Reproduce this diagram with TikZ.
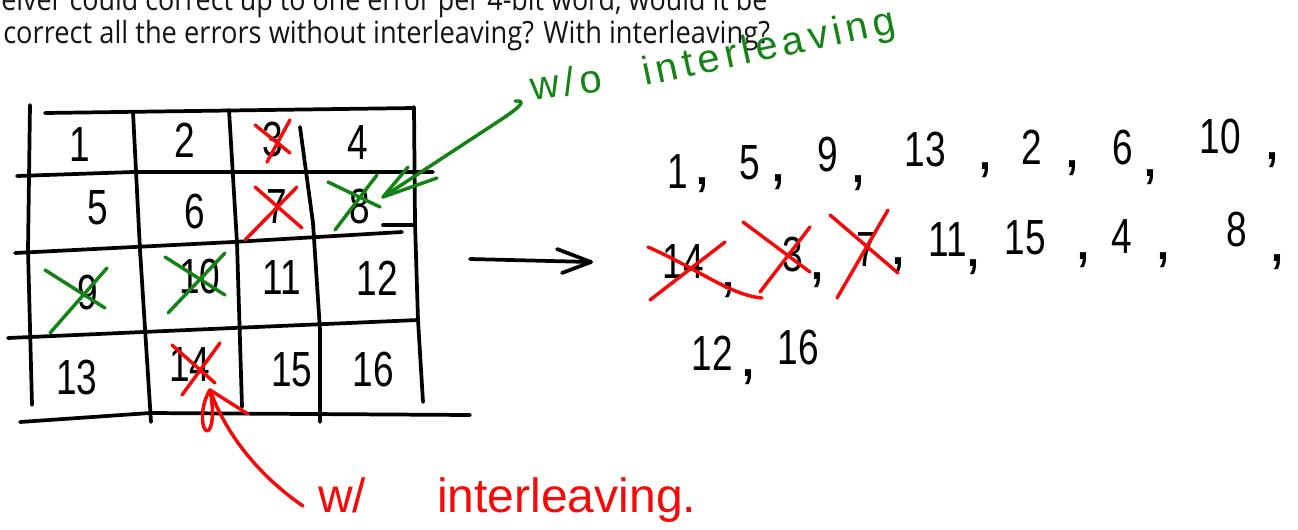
\documentclass[tikz,border=0pt]{standalone}
\usepackage{fontspec}
\usepackage{graphicx}
\setmainfont{Open Sans}
\newfontfamily\handfont{Liberation Sans}
\newfontfamily\handls[LetterSpace=12]{Liberation Sans}
\newcommand\hnum[1]{\scalebox{0.75}[1]{#1}}
\definecolor{gr}{RGB}{20,130,20}
\definecolor{rd}{RGB}{245,10,10}
\definecolor{tx}{RGB}{20,20,20}
\begin{document}
\begin{tikzpicture}[x=0.75pt,y=-0.75pt,
  ink/.style={line width=2.8pt, line cap=round, line join=round, black},
  redx/.style={line width=2.6pt, line cap=round, line join=round, rd},
  grnx/.style={line width=2.6pt, line cap=round, line join=round, gr},
  dig/.style={font=\handfont\fontsize{37}{37}\selectfont, inner sep=0pt, anchor=center},
  commamark/.style={font=\handfont\fontsize{48}{48}\selectfont, inner sep=0pt, anchor=center},
  qline/.style={font=\fontsize{23}{23}\selectfont, text=tx, inner sep=0pt, anchor=base west},
  gtxt/.style={font=\handls\fontsize{30}{30}\selectfont, text=gr, inner sep=0pt, anchor=base west},
  rtxt/.style={font=\handfont\fontsize{36}{36}\selectfont, text=rd, inner sep=0pt, anchor=base west}]
\useasboundingbox (0,0) rectangle (1298,529);
\clip (0,0) rectangle (1298,529);

% question text
\node[qline] (q1) at (1,10) {\resizebox{574.5pt}{\height}{eiver could correct up to one error per 4-bit word, would it be}};
\node[qline] (q2) at (3,43) {\resizebox{575pt}{\height}{correct all the errors without interleaving? With interleaving?}};

% grid lines
\draw[ink] (30,105) -- (28,250) -- (32,405);
\draw[ink] (133,112) -- (140,250) -- (151,422);
\draw[ink] (229,110) -- (237,243) -- (242,407);
\draw[ink] (300,127) -- (313,223) -- (320,330) -- (320,422);
\draw[ink] (414,107) -- (415,223) -- (418,320) -- (423,402);
\draw[ink] (45,113) -- (414,108);
\draw[ink] (17,176) -- (133,172) -- (433,172);
\draw[ink] (15,253) -- (233,242) -- (402,232);
\draw[ink] (383,225) -- (414,225);
\draw[ink] (8,338) -- (233,328) -- (418,320);
\draw[ink] (20,422) -- (150,413) -- (470,415);

% grid numbers
\node[dig] (c1) at (80,145) {\hnum{1}};
\node[dig] (c2) at (185,140) {\hnum{2}};
\node[dig] (c3) at (273,140) {\hnum{3}};
\node[dig] (c4) at (358,143) {\hnum{4}};
\node[dig] (c5) at (98,208) {\hnum{5}};
\node[dig] (c6) at (195,212) {\hnum{6}};
\node[dig] (c7) at (277,207) {\hnum{7}};
\node[dig] (c8) at (360,207) {\hnum{8}};
\node[dig] (c9) at (88,293) {\hnum{9}};
\node[dig] (c10) at (200,277) {\hnum{10}};
\node[dig] (c11) at (282,278) {\hnum{11}};
\node[dig] (c12) at (377,278) {\hnum{12}};
\node[dig] (c13) at (77,378) {\hnum{13}};
\node[dig] (c14) at (190,365) {\hnum{14}};
\node[dig] (c15) at (292,370) {\hnum{15}};
\node[dig] (c16) at (373,370) {\hnum{16}};

% crosses in grid
\draw[redx] (255,125) -- (290,153);
\draw[redx] (290,120) -- (267,162);
\draw[redx] (255,187) -- (302,228);
\draw[redx] (297,187) -- (245,240);
\draw[grnx] (328,182) -- (380,207);
\draw[grnx] (377,175) -- (335,230);
\draw[grnx] (45,270) -- (105,308);
\draw[grnx] (107,268) -- (50,333);
\draw[grnx] (165,257) -- (225,295);
\draw[grnx] (225,253) -- (168,313);
\draw[redx] (172,345) -- (215,383);
\draw[redx] (220,343) -- (182,395);

% green annotation
\node[gtxt, rotate=8] (wo) at (532,101) {w/o};
\node[gtxt, rotate=12] (wol) at (645,86) {interleaving};
\coordinate (gtip) at (383,197);
\coordinate (gtail) at (505,117);
\draw[grnx] (gtip) -- (gtail) .. controls (518,108) and (528,100) .. (515,101);
\draw[grnx] (408,167) -- (gtip) -- (437,178);

% red annotation
\node[rtxt] (w) at (318,512) {w/};
\node[rtxt] (wl) at (437,512) {interleaving.};
\coordinate (rtip) at (210,390);
\coordinate (rtail) at (303,506);
\draw[redx] (rtail) .. controls (265,480) and (228,440) .. (rtip);
\draw[redx] (rtip) -- (248,414);
\draw[redx] (rtip) .. controls (200,405) and (201,430) .. (207,431) .. controls (213,430) and (214,410) .. (rtip);

% middle arrow
\coordinate (a1) at (470,259);
\coordinate (a2) at (591,262);
\draw[ink] (a1) -- (a2);
\draw[ink] (557,249) -- (a2) -- (562,273);

% sequence row 1
\node[dig] (s1) at (678,172) {\hnum{1}};
\node[commamark] (k1) at (702,185) {,};
\node[dig] (s5) at (750,163) {\hnum{5}};
\node[commamark] (k2) at (778,182) {,};
\node[dig] (s9) at (828,155) {\hnum{9}};
\node[commamark] (k3) at (858,183) {,};
\node[dig] (s13) at (925,150) {\hnum{13}};
\node[commamark] (k4) at (985,170) {,};
\node[dig] (s2) at (1032,147) {\hnum{2}};
\node[commamark] (k5) at (1072,168) {,};
\node[dig] (s6) at (1123,148) {\hnum{6}};
\node[commamark] (k6) at (1150,177) {,};
\node[dig] (s10) at (1220,137) {\hnum{10}};
\node[commamark] (k7) at (1272,160) {,};
% row 2
\node[dig] (s14) at (683,262) {\hnum{14}};
\node[commamark] (k8) at (728,290) {,};
\node[dig] (s3) at (793,255) {\hnum{3}};
\node[commamark] (k9) at (817,280) {,};
\node[dig] (s7) at (867,250) {\hnum{7}};
\node[commamark] (k10) at (898,265) {,};
\node[dig] (s11) at (948,240) {\hnum{11}};
\node[commamark] (k11) at (973,267) {,};
\node[dig] (s15) at (1025,238) {\hnum{15}};
\node[commamark] (k12) at (1083,260) {,};
\node[dig] (s4) at (1122,237) {\hnum{4}};
\node[commamark] (k13) at (1163,260) {,};
\node[dig] (s8) at (1237,230) {\hnum{8}};
\node[commamark] (k14) at (1277,262) {,};
% row 3
\node[dig] (s12) at (712,353) {\hnum{12}};
\node[commamark] (k15) at (748,377) {,};
\node[dig] (s16) at (798,348) {\hnum{16}};

% red crosses on sequence
\draw[redx] (648,247) .. controls (700,270) and (730,295) .. (762,298);
\draw[redx] (725,242) -- (650,300);
\draw[redx] (743,222) -- (810,272);
\draw[redx] (810,227) -- (760,292);
\draw[redx] (830,215) -- (898,273);
\draw[redx] (888,210) -- (837,298);
\end{tikzpicture}
\end{document}
